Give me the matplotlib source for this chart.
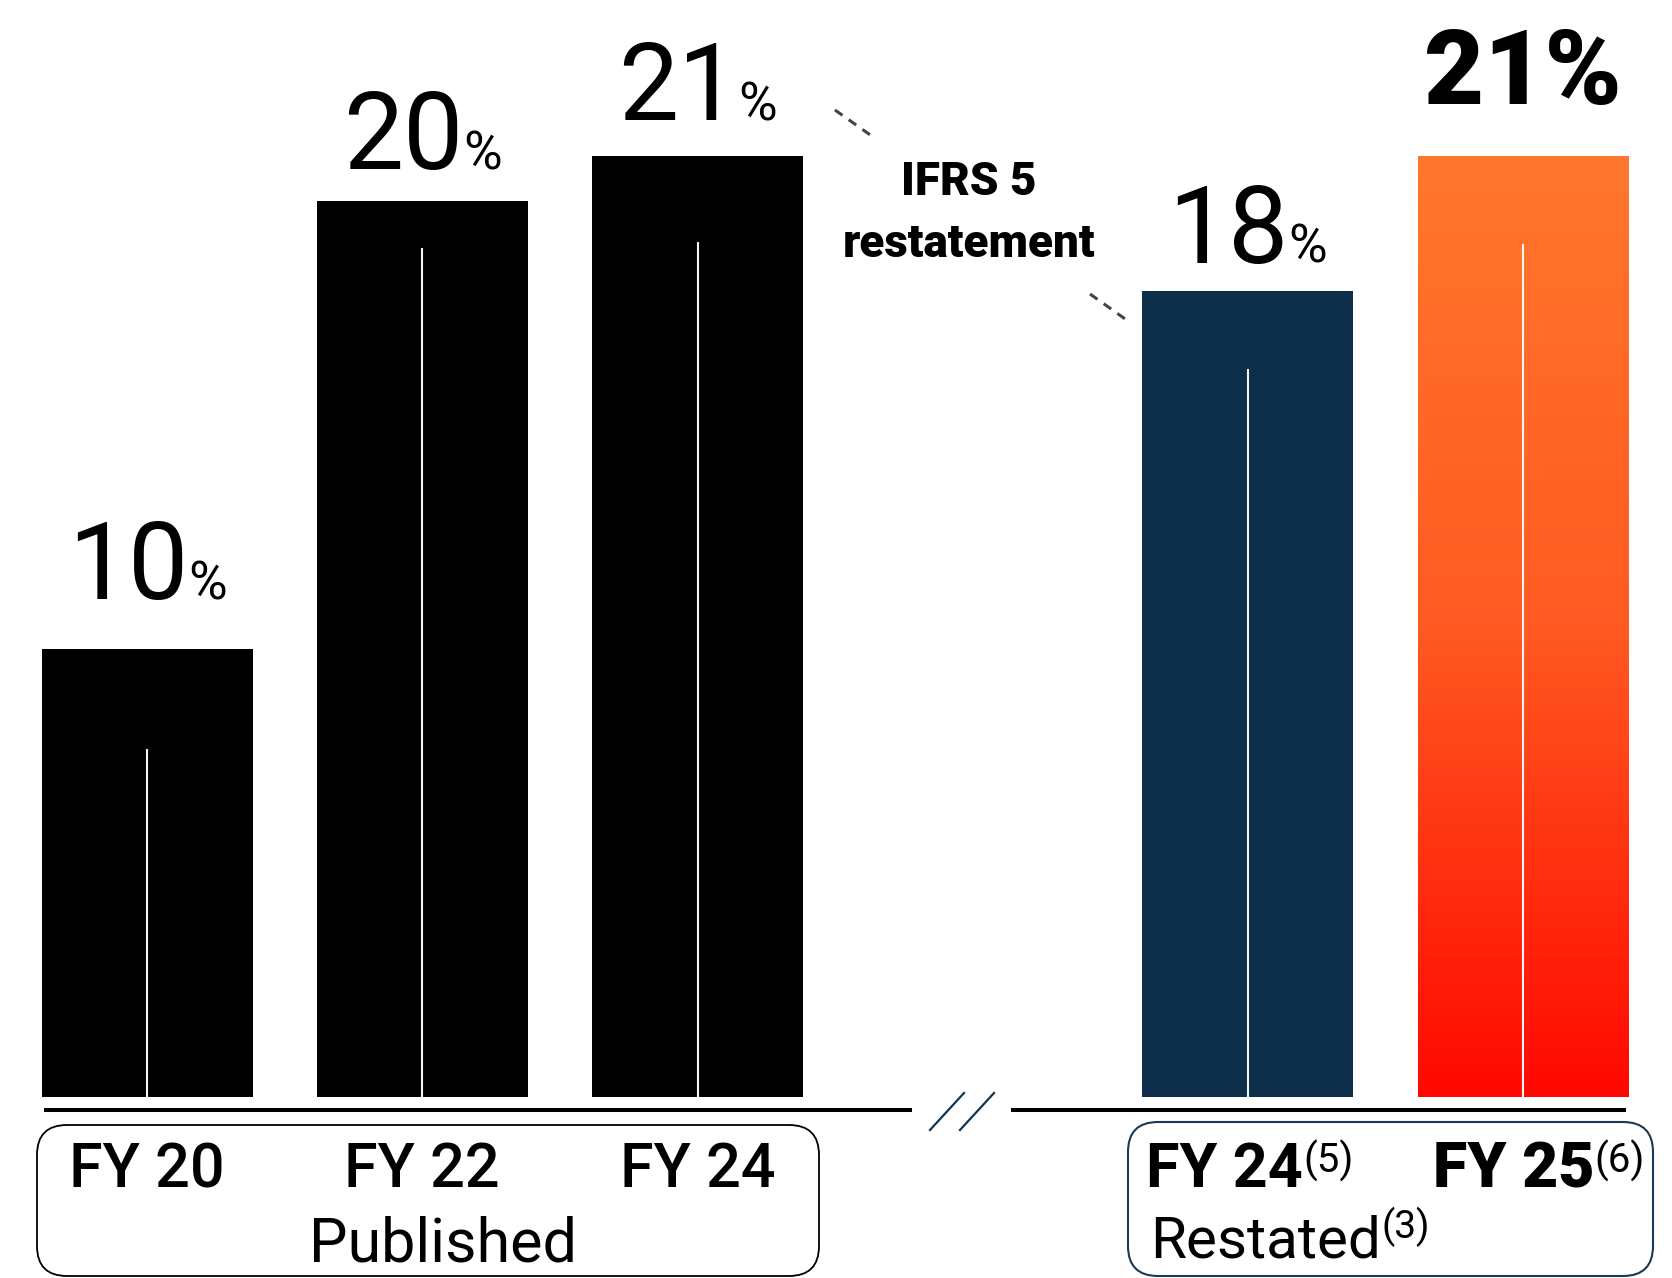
import matplotlib
matplotlib.use("Agg")
import matplotlib.pyplot as plt
import matplotlib.transforms as mtransforms
from matplotlib.patches import FancyBboxPatch
from matplotlib.lines import Line2D
from matplotlib.colors import LinearSegmentedColormap
import numpy as np

# ---- data ----
categories = ["FY 20", "FY 22", "FY 24", "FY 24", "FY 25"]
positions = [0, 1, 2, 4, 5]
values = [10, 20, 21, 18, 21]
label_numbers = ["10", "20", "21", "18", "21"]
footnotes = ["", "", "", "(5)", "(6)"]
inner_marks = [7.77, 18.96, 19.08, 16.25, 19.04]
group_names = ["Published", "Restated"]
group_note = "(3)"
bridge_text = "IFRS 5\nrestatement"

# ---- style ----
W, H = 1672, 1278
FONT = "Roboto"
NAVY = "#0e2f4b"
bar_colors = ["#000000", "#000000", "#000000", NAVY, None]
gap_px = [50, 32, 36, 28, 52]

fig = plt.figure(figsize=(W / 100, H / 100), dpi=100)
ax = fig.add_axes([0, 0, 1, 1])
XLIM = (-147.1 / 275.2, (W - 147.1) / 275.2)
YLIM = (-181 / 44.8, (H - 181) / 44.8)
ax.set_xlim(*XLIM)
ax.set_ylim(*YLIM)
ax.axis("off")

# pixel coordinates measured from the top-left corner
pix = mtransforms.Affine2D().scale(1 / W, -1 / H).translate(0, 1) + fig.transFigure
renderer = fig.canvas.get_renderer()

bar_width = 211 / 275.2
bars = ax.bar(positions, values, width=bar_width, color=[c if c else "none" for c in bar_colors],
              edgecolor="none", zorder=2)

# gradient fill for the latest year
grad_bar = bars[4]
cmap = LinearSegmentedColormap.from_list("og", ["#ff0800", "#ff5a22", "#ff772d"])
grad = np.linspace(0, 1, 256).reshape(-1, 1)
x0 = grad_bar.get_x()
im = ax.imshow(grad, cmap=cmap, aspect="auto", origin="lower",
               extent=[x0, x0 + bar_width, 0, values[4]], zorder=2)
im.set_clip_path(grad_bar)
ax.set_xlim(*XLIM)
ax.set_ylim(*YLIM)

# thin white centre marks inside bars
for p, m in zip(positions, inner_marks):
    ax.plot([p, p], [0, m], color="#f4f4f4", lw=1.5, zorder=3, solid_capstyle="butt")


def place_row(cx, baseline, parts):
    """Lay out text pieces side by side, centred on cx (pixels)."""
    texts = []
    widths = []
    for s, size, weight, rise in parts:
        t = fig.text(0, baseline - rise, s, transform=pix, fontsize=size, fontweight=weight,
                     family=FONT, ha="left", va="baseline", color="black")
        texts.append((t, rise))
        widths.append(t.get_window_extent(renderer).width)
    x = cx - sum(widths) / 2
    for (t, rise), w in zip(texts, widths):
        t.set_position((x, baseline - rise))
        x += w


# value labels above bars
for i, (p, v, num) in enumerate(zip(positions, values, label_numbers)):
    cx, ytop = ax.transData.transform((p, v))
    top_px = H - ytop
    if i == 4:
        place_row(cx, top_px - gap_px[i], [(num + "%", 75, "black", 0)])
    else:
        place_row(cx, top_px - gap_px[i], [(num, 77, "normal", 0), ("%", 38, "normal", 0)])

# category labels
for i, (p, cat, fn) in enumerate(zip(positions, categories, footnotes)):
    cx = ax.transData.transform((p, 0))[0]
    if i < 3:
        place_row(cx, 1187, [(cat, 44, "medium", 0)])
    elif i == 3:
        place_row(cx + 2, 1187, [(cat, 44, "bold", 0), (fn, 29, "normal", 14)])
    else:
        place_row(cx + 16, 1187, [(cat, 45, "black", 0), (fn, 29, "normal", 14)])

place_row(443, 1261, [(group_names[0], 44, "normal", 0)])
place_row(1290, 1258, [(group_names[1], 42, "normal", 0), (group_note, 28, "normal", 20)])

# IFRS bridge note
fig.text(969, 213, bridge_text, transform=pix, ha="center", va="center", family=FONT,
         fontsize=33, fontweight="black", linespacing=1.5)
for (xa, ya), (xb, yb) in [((835, 110), (876, 139)), ((1090, 294), (1128, 321))]:
    fig.add_artist(Line2D([xa, xb], [ya, yb], transform=pix, color="#444444", lw=2.2,
                          linestyle=(0, (3, 2.5))))

# baseline with break marks
fig.add_artist(Line2D([44, 912], [1110, 1110], transform=pix, color="black", lw=2.9,
                      solid_capstyle="butt"))
fig.add_artist(Line2D([1011, 1626], [1110, 1110], transform=pix, color="black", lw=2.9,
                      solid_capstyle="butt"))
for dx in (0, 30):
    fig.add_artist(Line2D([930 + dx, 964 + dx], [1130, 1093], transform=pix, color="#123650",
                          lw=1.6))

# rounded group frames
for (xa, ya, xb, yb), col, lw in [((37, 1125, 819, 1276), "black", 1.3),
                                  ((1128, 1122, 1653, 1276), "#1c3a55", 1.5)]:
    box = FancyBboxPatch((xa, ya), xb - xa, yb - ya, boxstyle="round,pad=0,rounding_size=30",
                         transform=pix, facecolor="none", edgecolor=col, lw=lw)
    fig.add_artist(box)

fig.savefig("out.png", dpi=100)
